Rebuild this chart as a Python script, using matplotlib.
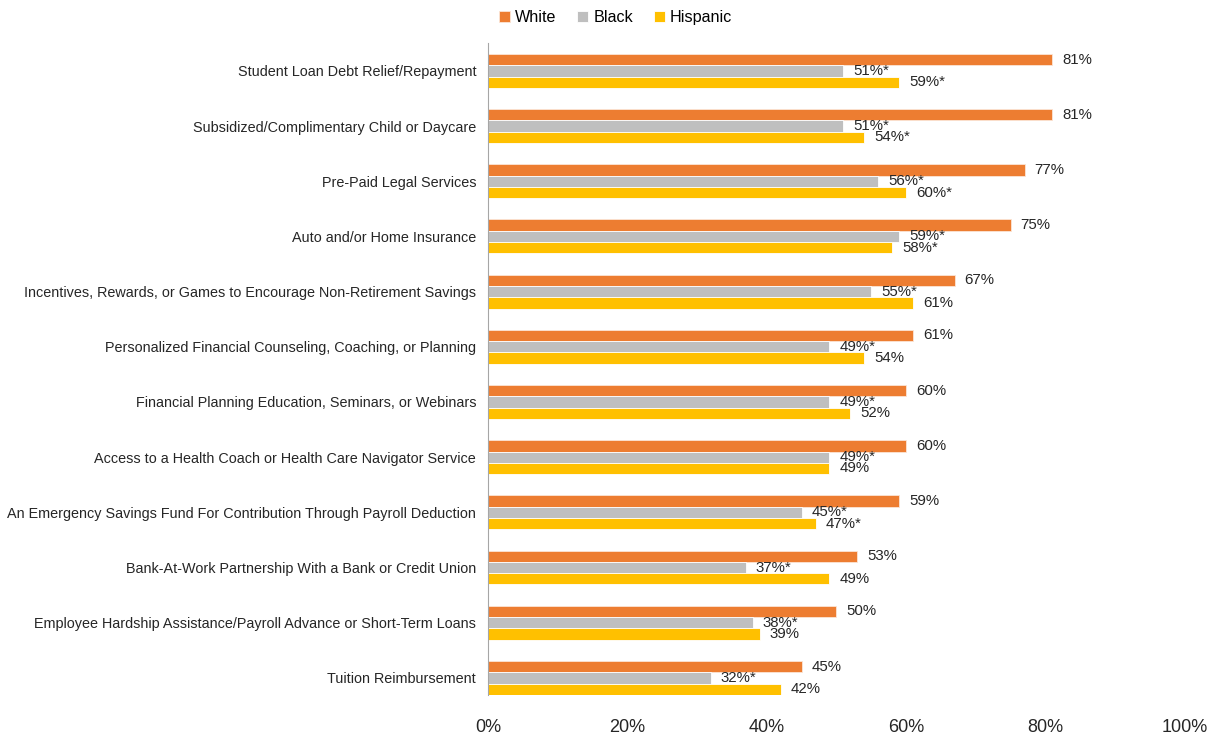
import numpy as np
import matplotlib.pyplot as plt

plt.rcParams['font.family'] = ['Liberation Sans', 'DejaVu Sans']

categories = [
    "Student Loan Debt Relief/Repayment",
    "Subsidized/Complimentary Child or Daycare",
    "Pre-Paid Legal Services",
    "Auto and/or Home Insurance",
    "Incentives, Rewards, or Games to Encourage Non-Retirement Savings",
    "Personalized Financial Counseling, Coaching, or Planning",
    "Financial Planning Education, Seminars, or Webinars",
    "Access to a Health Coach or Health Care Navigator Service",
    "An Emergency Savings Fund For Contribution Through Payroll Deduction",
    "Bank-At-Work Partnership With a Bank or Credit Union",
    "Employee Hardship Assistance/Payroll Advance or Short-Term Loans",
    "Tuition Reimbursement",
]
white = [81, 81, 77, 75, 67, 61, 60, 60, 59, 53, 50, 45]
black = [51, 51, 56, 59, 55, 49, 49, 49, 45, 37, 38, 32]
hispanic = [59, 54, 60, 58, 61, 54, 52, 49, 47, 49, 39, 42]
black_sig = [True] * 12
hispanic_sig = [True, True, True, True, False, False, False, False, True, False, False, False]

series = [
    ("White", white, [False] * 12, "#ED7D31"),
    ("Black", black, black_sig, "#BFBFBF"),
    ("Hispanic", hispanic, hispanic_sig, "#FFC000"),
]

fig = plt.figure(figsize=(12.14, 7.37), dpi=100)
ax = fig.add_axes([0.402, 0.057, 0.574, 0.885])

y = np.arange(len(categories))
h = 0.205
for i, (name, vals, sig, color) in enumerate(series):
    pos = y + (i - 1) * h
    ax.barh(pos, vals, height=h, color=color, edgecolor="#FBE5D6" if i == 0 else "white",
            linewidth=0.6, label=name)
    for p, v, s in zip(pos, vals, sig):
        ax.text(v + 1.4, p, f"{v}%" + ("*" if s else ""), va="center", ha="left",
                fontsize=10.8, color="#262626")

ax.set_yticks(y)
ax.set_yticklabels(categories, fontsize=10.4, color="#262626")
ax.set_ylim(len(categories) - 0.69, -0.51)
ax.set_xlim(0, 100)
ax.set_xticks(np.arange(0, 101, 20))
ax.set_xticklabels([f"{t}%" for t in range(0, 101, 20)], fontsize=13, color="#262626")
ax.tick_params(axis="both", length=0)
ax.tick_params(axis="x", pad=17)
ax.tick_params(axis="y", pad=8.5)
for side in ["top", "right", "bottom"]:
    ax.spines[side].set_visible(False)
ax.spines["left"].set_color("#A6A6A6")

fig.legend(loc="upper center", bbox_to_anchor=(0.507, 1.006), ncol=3, frameon=False,
           handlelength=0.7, handleheight=0.7, handletextpad=0.3, columnspacing=1.3,
           fontsize=11.6)

fig.savefig("out.png", dpi=100)
